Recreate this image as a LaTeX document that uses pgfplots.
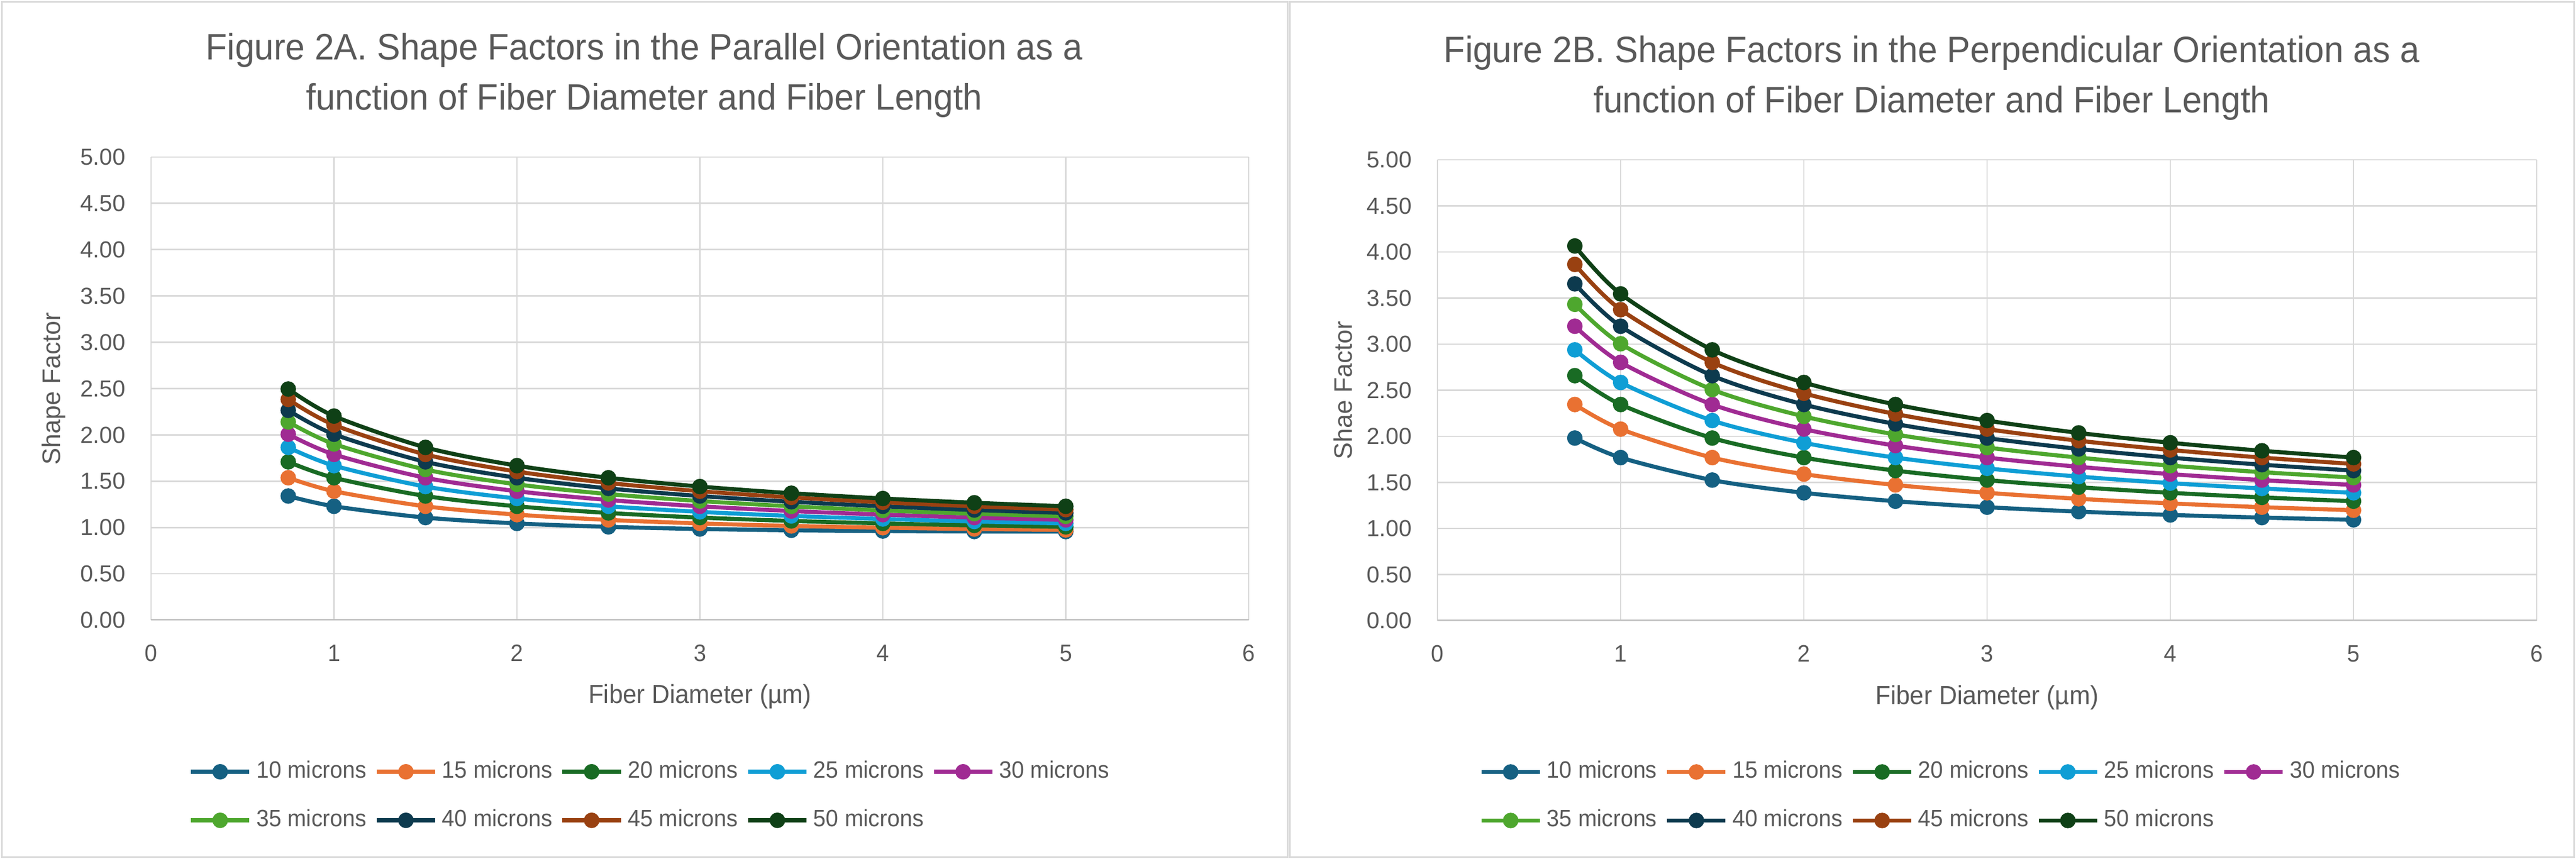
\documentclass[border=0pt]{standalone}
\usepackage{fontspec}
\setmainfont{Liberation Sans}
\newfontfamily\aptos[FakeStretch=0.95]{Liberation Sans}
\usepackage{pgfplots}
\usepackage{pgfplotstable}
\pgfplotsset{compat=1.18}

\definecolor{s10}{HTML}{156082}
\definecolor{s15}{HTML}{E97132}
\definecolor{s20}{HTML}{196B24}
\definecolor{s25}{HTML}{0F9ED5}
\definecolor{s30}{HTML}{A02B93}
\definecolor{s35}{HTML}{4EA72E}
\definecolor{s40}{HTML}{0D3A4E}
\definecolor{s45}{HTML}{994111}
\definecolor{s50}{HTML}{0F4016}
\definecolor{txt}{HTML}{595959}
\definecolor{grd}{HTML}{D9D9D9}
\definecolor{axl}{HTML}{BFBFBF}
\definecolor{brd}{HTML}{D9D9D9}

% Figure 2A: parallel orientation
\pgfplotstableread{
d L10 L15 L20 L25 L30 L35 L40 L45 L50
0.75 1.340 1.537 1.709 1.865 2.007 2.140 2.265 2.383 2.495
1 1.229 1.392 1.537 1.668 1.789 1.902 2.007 2.108 2.203
1.5 1.107 1.229 1.340 1.442 1.537 1.626 1.709 1.789 1.865
2 1.044 1.139 1.229 1.313 1.392 1.466 1.537 1.604 1.668
2.5 1.007 1.082 1.157 1.229 1.297 1.361 1.422 1.481 1.537
3 0.984 1.044 1.107 1.169 1.229 1.286 1.340 1.392 1.442
3.5 0.970 1.017 1.071 1.125 1.178 1.229 1.278 1.325 1.370
4 0.962 0.998 1.044 1.092 1.139 1.184 1.229 1.272 1.313
4.5 0.957 0.984 1.023 1.065 1.107 1.149 1.189 1.229 1.267
5 0.956 0.974 1.007 1.044 1.082 1.120 1.157 1.193 1.229
}\tabA

% Figure 2B: perpendicular orientation
\pgfplotstableread{
d L10 L15 L20 L25 L30 L35 L40 L45 L50
0.75 1.981 2.345 2.658 2.938 3.194 3.432 3.654 3.865 4.065
1 1.769 2.078 2.345 2.584 2.802 3.004 3.194 3.374 3.545
1.5 1.525 1.769 1.981 2.171 2.345 2.507 2.658 2.802 2.938
2 1.387 1.590 1.769 1.930 2.078 2.216 2.345 2.467 2.584
2.5 1.296 1.472 1.628 1.769 1.899 2.020 2.134 2.242 2.345
3 1.231 1.387 1.525 1.652 1.769 1.878 1.981 2.078 2.171
3.5 1.183 1.322 1.448 1.563 1.669 1.769 1.863 1.952 2.037
4 1.147 1.272 1.387 1.492 1.590 1.682 1.769 1.852 1.930
4.5 1.118 1.231 1.337 1.434 1.525 1.611 1.692 1.769 1.843
5 1.094 1.198 1.296 1.387 1.472 1.552 1.628 1.700 1.769
}\tabB

\pgfplotsset{
  ser/.style={color=#1, line width=1.5pt, smooth, mark=*, mark size=2.6pt,
    mark options={solid, fill=#1, draw=#1, line width=0.5pt}},
  panel/.style={
    scale only axis, anchor=south west,
    xmin=0, xmax=6, ymin=0, ymax=5,
    xtick={0,1,2,3,4,5,6}, xticklabels={0,1,2,3,4,5,6},
    ytick={0,0.5,1,1.5,2,2.5,3,3.5,4,4.5,5},
    yticklabels={0.00,0.50,1.00,1.50,2.00,2.50,3.00,3.50,4.00,4.50,5.00},
    grid=major, grid style={grd, line width=0.55pt},
    axis line style={draw=none}, major tick length=0pt,
    xticklabel style={font=\aptos\fontsize{8.7}{10}\selectfont, text=txt, inner sep=0pt, anchor=north, yshift=-8.9pt},
    yticklabel style={font=\fontsize{8.5}{10}\selectfont, text=txt, inner sep=0pt, anchor=east, xshift=-9.2pt},
    xlabel style={font=\aptos\fontsize{9.6}{11}\selectfont, text=txt, anchor=base},
    ylabel style={font=\fontsize{9.3}{11}\selectfont, text=txt, anchor=center},
    legend columns=5,
    legend image code/.code={\draw[##1, mark repeat=2, mark phase=2] plot coordinates {(0pt,0pt) (10.7pt,0pt) (21.4pt,0pt)};},
    legend style={draw=none, fill=none, anchor=west,
      font=\aptos\fontsize{8.7}{10}\selectfont, text=txt,
      /tikz/every even column/.append style={column sep=3pt},
      /tikz/every odd column/.append style={column sep=1.8pt},
      row sep=9.7pt,
      nodes={inner sep=0pt, text height=6.3pt, text depth=1.8pt, anchor=west}},
  }
}

\begin{document}
\begin{tikzpicture}
\path[use as bounding box] (0pt,0pt) rectangle (944.8pt,315pt);
\draw[brd, line width=0.6pt] (0.7pt,0.7pt) rectangle (472.3pt,314.3pt);
\draw[brd, line width=0.6pt] (473.0pt,0.7pt) rectangle (944.1pt,314.3pt);

\node[font=\aptos\fontsize{13.5}{16}\selectfont, text=txt, anchor=base] at (236.3pt,293.0pt) {Figure 2A. Shape Factors in the Parallel Orientation as a};
\node[font=\aptos\fontsize{13.5}{16}\selectfont, text=txt, anchor=base] at (236.3pt,274.7pt) {function of Fiber Diameter and Fiber Length};
\node[font=\aptos\fontsize{13.5}{16}\selectfont, text=txt, anchor=base] at (708.5pt,292.0pt) {Figure 2B. Shape Factors in the Perpendicular Orientation as a};
\node[font=\aptos\fontsize{13.5}{16}\selectfont, text=txt, anchor=base] at (708.5pt,273.7pt) {function of Fiber Diameter and Fiber Length};

\begin{axis}[panel, at={(55.4pt,87.6pt)}, width=402.6pt, height=169.8pt,
  xlabel={Fiber Diameter (µm)}, ylabel={Shape Factor},
  xlabel style={at={(axis description cs:0.5,-0.1802)}},
  ylabel style={at={(axis description cs:-0.0889,0.5)}},
  legend style={at={(axis description cs:0.0266,-0.380)}}]
\draw[axl, line width=0.6pt] (axis cs:0,0) -- (axis cs:6,0);
\addplot[ser=s10] table[x=d,y=L10]{\tabA}; \addlegendentry{10 microns}
\addplot[ser=s15] table[x=d,y=L15]{\tabA}; \addlegendentry{15 microns}
\addplot[ser=s20] table[x=d,y=L20]{\tabA}; \addlegendentry{20 microns}
\addplot[ser=s25] table[x=d,y=L25]{\tabA}; \addlegendentry{25 microns}
\addplot[ser=s30] table[x=d,y=L30]{\tabA}; \addlegendentry{30 microns}
\addplot[ser=s35] table[x=d,y=L35]{\tabA}; \addlegendentry{35 microns}
\addplot[ser=s40] table[x=d,y=L40]{\tabA}; \addlegendentry{40 microns}
\addplot[ser=s45] table[x=d,y=L45]{\tabA}; \addlegendentry{45 microns}
\addplot[ser=s50] table[x=d,y=L50]{\tabA}; \addlegendentry{50 microns}
\end{axis}

\begin{axis}[panel, at={(527.2pt,87.4pt)}, width=403.2pt, height=169.0pt,
  xlabel={Fiber Diameter (µm)}, ylabel={Shae Factor},
  xlabel style={at={(axis description cs:0.5,-0.1822)}},
  ylabel style={at={(axis description cs:-0.0861,0.5)}},
  legend style={at={(axis description cs:0.0303,-0.381)}}]
\draw[axl, line width=0.6pt] (axis cs:0,0) -- (axis cs:6,0);
\addplot[ser=s10] table[x=d,y=L10]{\tabB}; \addlegendentry{10 microns}
\addplot[ser=s15] table[x=d,y=L15]{\tabB}; \addlegendentry{15 microns}
\addplot[ser=s20] table[x=d,y=L20]{\tabB}; \addlegendentry{20 microns}
\addplot[ser=s25] table[x=d,y=L25]{\tabB}; \addlegendentry{25 microns}
\addplot[ser=s30] table[x=d,y=L30]{\tabB}; \addlegendentry{30 microns}
\addplot[ser=s35] table[x=d,y=L35]{\tabB}; \addlegendentry{35 microns}
\addplot[ser=s40] table[x=d,y=L40]{\tabB}; \addlegendentry{40 microns}
\addplot[ser=s45] table[x=d,y=L45]{\tabB}; \addlegendentry{45 microns}
\addplot[ser=s50] table[x=d,y=L50]{\tabB}; \addlegendentry{50 microns}
\end{axis}
\end{tikzpicture}
\end{document}
